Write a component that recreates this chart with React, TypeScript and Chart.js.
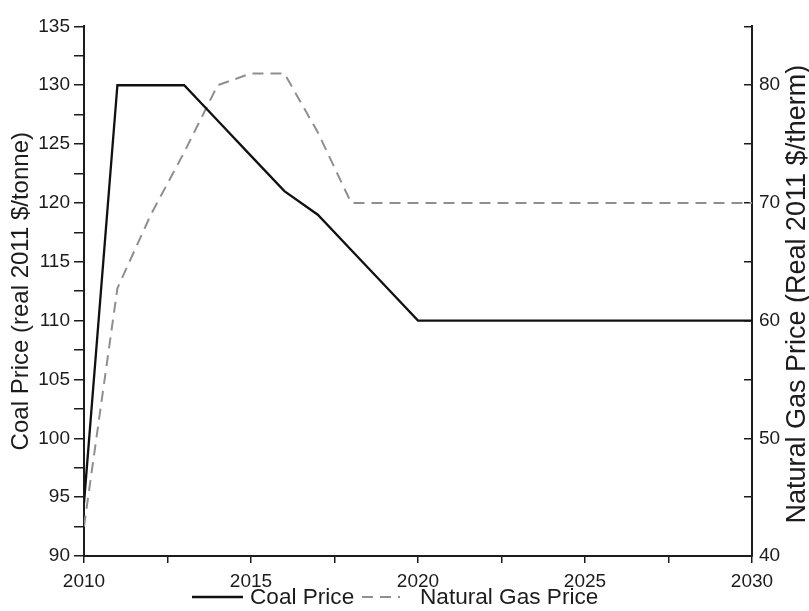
import React, { useEffect, useRef } from "react";
import { Chart, registerables } from "chart.js";

Chart.register(...registerables);

const years = [2010, 2011, 2012, 2013, 2014, 2015, 2016, 2017, 2018, 2019, 2020, 2021, 2022, 2023, 2024, 2025, 2026, 2027, 2028, 2029, 2030];
const coalPrice = [94.5, 130, 130, 130, 127, 124, 121, 119, 116, 113, 110, 110, 110, 110, 110, 110, 110, 110, 110, 110, 110];
const gasPrice = [42.5, 62.75, 69, 74.3, 80, 81, 81, 76, 70, 70, 70, 70, 70, 70, 70, 70, 70, 70, 70, 70, 70];

const seriesLabels = ["Coal Price", "Natural Gas Price"];
const leftTitle = "Coal Price (real 2011 $/tonne)";
const rightTitle = "Natural Gas Price (Real 2011 $/therm)";

const xMin = 2010, xMax = 2030, xStep = 2.5;
const yMin = 90, yMax = 135, yStep = 2.5;
const y1Min = 40, y1Max = 85, y1Step = 5;

const FONT = "'Liberation Sans', Arial, Helvetica, sans-serif";
const TEXT = "#1c1c1c";
const AXIS = "#1c1c1c";

// Draws the right-axis title (reading bottom-to-top) and the bottom legend.
const extrasPlugin = {
  id: "extras",
  afterDraw(chart: any) {
    const ctx = chart.ctx;
    const area = chart.chartArea;
    const s = chart.scales.y1;

    ctx.save();
    ctx.translate(s.right - 11, (area.top + area.bottom) / 2 + 3);
    ctx.rotate(-Math.PI / 2);
    ctx.font = `27px ${FONT}`;
    ctx.fillStyle = TEXT;
    ctx.textAlign = "center";
    ctx.textBaseline = "middle";
    ctx.fillText(rightTitle, 0, 0);
    ctx.restore();

    // legend
    const legendY = 597;
    const items = [
      { x0: 192, x1: 243, tx: 250 },
      { x0: 362, x1: 400, tx: 420 },
    ];
    chart.data.datasets.forEach((ds: any, i: number) => {
      const it = items[i];
      if (!it) return;
      ctx.save();
      ctx.strokeStyle = ds.borderColor;
      ctx.lineWidth = ds.borderWidth;
      ctx.setLineDash(ds.borderDash || []);
      ctx.beginPath();
      ctx.moveTo(it.x0, legendY);
      ctx.lineTo(it.x1, legendY);
      ctx.stroke();
      ctx.setLineDash([]);
      ctx.font = `22.6px ${FONT}`;
      ctx.fillStyle = TEXT;
      ctx.textAlign = "left";
      ctx.textBaseline = "middle";
      ctx.fillText(ds.label, it.tx, legendY + 1);
      ctx.restore();
    });
  },
};

export default function App() {
  const ref = useRef<HTMLCanvasElement | null>(null);

  useEffect(() => {
    if (!ref.current) return;
    const chart = new Chart(ref.current, {
      type: "line",
      data: {
        datasets: [
          {
            label: seriesLabels[0],
            data: years.map((x, i) => ({ x, y: coalPrice[i] })),
            borderColor: "#111111",
            backgroundColor: "rgba(0,0,0,0)",
            borderWidth: 2.3,
            pointRadius: 0,
            tension: 0,
            yAxisID: "y",
          },
          {
            label: seriesLabels[1],
            data: years.map((x, i) => ({ x, y: gasPrice[i] })),
            borderColor: "#8f8f8f",
            backgroundColor: "rgba(0,0,0,0)",
            borderWidth: 2,
            borderDash: [11, 7],
            pointRadius: 0,
            tension: 0,
            yAxisID: "y1",
          },
        ],
      },
      options: {
        responsive: false,
        animation: false,
        devicePixelRatio: 1,
        layout: { padding: { top: 20, left: 0, right: 0, bottom: 0 } },
        plugins: {
          tooltip: { enabled: false },
          legend: { display: false },
        },
        scales: {
          x: {
            type: "linear",
            min: xMin,
            max: xMax,
            border: { display: true, color: AXIS, width: 2 },
            grid: { drawOnChartArea: false, drawTicks: true, tickLength: 7, color: AXIS, lineWidth: 1.5 },
            ticks: {
              stepSize: xStep,
              autoSkip: false,
              maxRotation: 0,
              padding: 7,
              color: TEXT,
              font: { family: FONT, size: 19 },
              callback: (v: any) => (Number(v) % 5 === 0 ? String(v) : ""),
            },
            afterFit: (s: any) => { s.height = 55; },
          },
          y: {
            type: "linear",
            position: "left",
            min: yMin,
            max: yMax,
            border: { display: true, color: AXIS, width: 2 },
            grid: { drawOnChartArea: false, drawTicks: true, tickLength: 10, color: AXIS, lineWidth: 1.5 },
            ticks: {
              stepSize: yStep,
              autoSkip: false,
              padding: 4,
              color: TEXT,
              font: { family: FONT, size: 19 },
              callback: (v: any) => (Number(v) % 5 === 0 ? String(v) : ""),
            },
            title: {
              display: true,
              text: leftTitle,
              color: TEXT,
              font: { family: FONT, size: 24 },
              padding: { top: 7, bottom: 0 },
            },
            afterFit: (s: any) => { s.width = 84; },
          },
          y1: {
            type: "linear",
            position: "right",
            min: y1Min,
            max: y1Max,
            border: { display: true, color: AXIS, width: 2 },
            grid: { drawOnChartArea: false, drawTicks: true, tickLength: -8, color: AXIS, lineWidth: 1.5 },
            ticks: {
              stepSize: y1Step,
              autoSkip: false,
              padding: 15,
              color: TEXT,
              font: { family: FONT, size: 19 },
              callback: (v: any) => (Number(v) % 10 === 0 ? String(v) : ""),
            },
            afterFit: (s: any) => { s.width = 57; },
          },
        },
      },
      plugins: [extrasPlugin],
    } as any);
    return () => chart.destroy();
  }, []);

  return (
    <div style={{ position: "fixed", left: 0, top: 0, width: 809, height: 611, background: "#ffffff" }}>
      <canvas ref={ref} width={809} height={611} />
    </div>
  );
}
